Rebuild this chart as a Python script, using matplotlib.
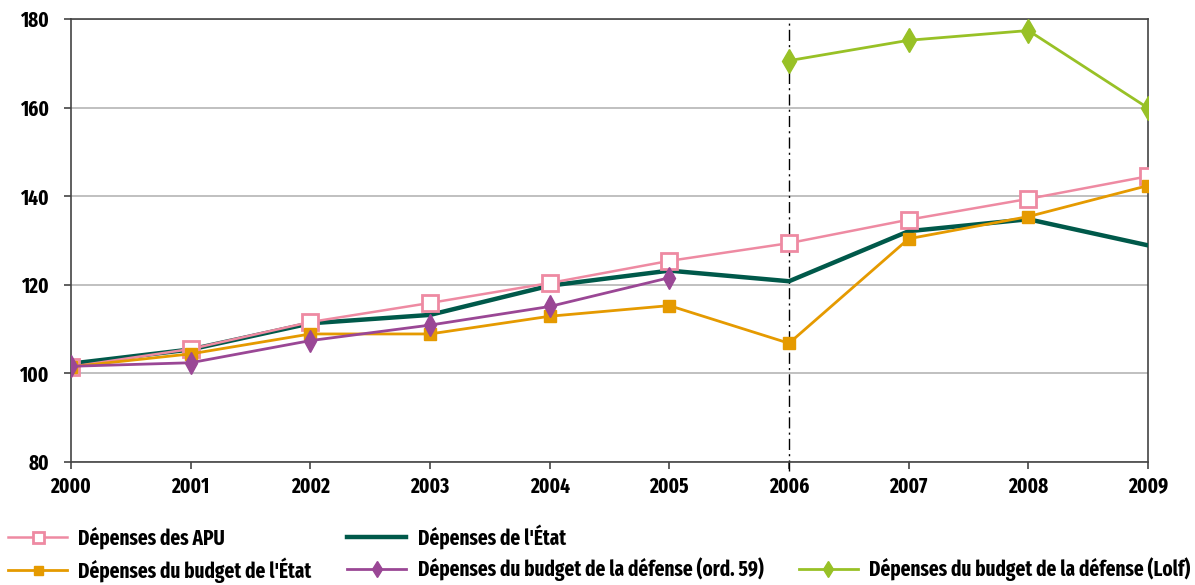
import matplotlib.pyplot as plt
from matplotlib.lines import Line2D

# data
years = [2000, 2001, 2002, 2003, 2004, 2005, 2006, 2007, 2008, 2009]
apu = [101.5, 105.5, 111.6, 115.9, 120.4, 125.4, 129.4, 134.7, 139.4, 144.5]
etat = [102.2, 105.4, 111.3, 113.2, 119.8, 123.2, 120.8, 132.1, 134.8, 128.9]
budget_etat = [101.5, 104.4, 108.9, 108.9, 112.9, 115.3, 106.8, 130.4, 135.4, 142.4]
years_ord59 = [2000, 2001, 2002, 2003, 2004, 2005]
defense_ord59 = [101.6, 102.4, 107.4, 110.9, 115.1, 121.6]
years_lolf = [2006, 2007, 2008, 2009]
defense_lolf = [170.6, 175.2, 177.4, 159.9]

plt.rcParams['font.family'] = ['Fira Sans Extra Condensed', 'PT Sans Narrow', 'DejaVu Sans']
plt.rcParams['font.weight'] = 'bold'

fig = plt.figure(figsize=(11.95, 5.85), dpi=100)
ax = fig.add_axes([0.0594, 0.2103, 0.9013, 0.7572])

h_apu, = ax.plot(years, apu, color='#ee8aa2', lw=1.8, marker='s', ms=11, mfc='white',
                 mec='#ee8aa2', mew=2, label='Dépenses des APU', zorder=4)
h_etat, = ax.plot(years, etat, color='#00594a', lw=3.2, label="Dépenses de l'État", zorder=3)
h_budget, = ax.plot(years, budget_etat, color='#e59a00', lw=2, marker='s', ms=9,
                    label="Dépenses du budget de l'État", zorder=5)
h_ord59, = ax.plot(years_ord59, defense_ord59, color='#9a4795', lw=2, marker='d', ms=11,
                   label='Dépenses du budget de la défense (ord. 59)', zorder=6)
h_lolf, = ax.plot(years_lolf, defense_lolf, color='#98c126', lw=2, marker='d', ms=12,
                  label='Dépenses du budget de la défense (Lolf)', zorder=6)

ax.axvline(2006, color='black', lw=1, ls=(0, (8, 3, 1.5, 3)), ymin=-0.02, clip_on=False, zorder=2)

ax.set_xlim(2000, 2009)
ax.set_ylim(80, 180)
ax.set_xticks(years)
ax.set_yticks([80, 100, 120, 140, 160, 180])
ax.yaxis.grid(True, color='#b5b5b5', lw=1.2)
ax.set_axisbelow(True)
for sp in ax.spines.values():
    sp.set_color('#444444')
    sp.set_linewidth(1.2)
ax.tick_params(axis='x', length=5, width=1.2, color='#444444', labelsize=15, pad=5)
ax.tick_params(axis='y', length=5, width=1.2, color='#444444', labelsize=15, pad=11)
for lab in ax.get_xticklabels() + ax.get_yticklabels():
    lab.set_fontweight('bold')

# empty slot so the Lolf entry sits on the second row
blank = Line2D([], [], alpha=0)
handles = [h_apu, h_budget, h_etat, h_ord59, blank, h_lolf]
labels = [h.get_label() if h is not blank else '' for h in handles]
leg = fig.legend(handles, labels, loc='upper left', bbox_to_anchor=(0.0067, 0.104), ncol=3,
                 frameon=False, fontsize=15, handlelength=2.85, columnspacing=1.7,
                 handletextpad=0.53, labelspacing=0.38, borderpad=0, borderaxespad=0,
                 markerscale=0.72)
for t in leg.get_texts():
    t.set_fontweight('bold')

fig.savefig('out.png', dpi=100)
